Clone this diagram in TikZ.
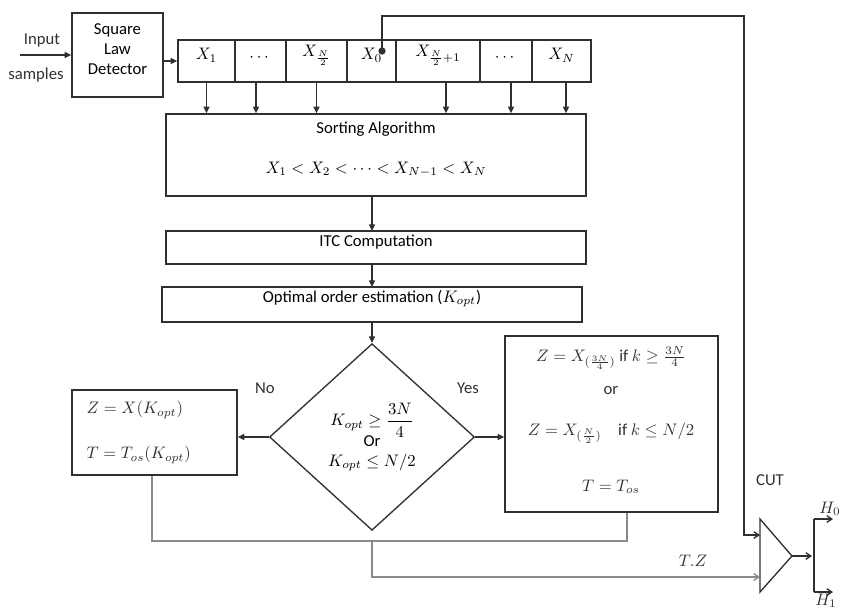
\documentclass[tikz,border=0pt]{standalone}
\usepackage{amsmath}
\usepackage{fontspec}
\setmainfont{Carlito}
\usetikzlibrary{shapes.geometric,arrows.meta,fit,calc}
\definecolor{dk}{HTML}{303030}
\definecolor{lg}{HTML}{8A8A8A}
\begin{document}
\begin{tikzpicture}[x=0.6pt,y=-0.6pt,line width=0.8pt,
  box/.style={draw=dk, inner sep=0pt, align=center, font=\normalsize},
  arr/.style={draw=dk,-{Triangle[length=4pt,width=3.6pt]}},
  oarr/.style={draw=dk,-{Straight Barb[length=3pt,width=4pt]}},
  garr/.style={draw=lg,-{Straight Barb[length=3pt,width=4pt]}},
  lbl/.style={inner sep=0pt, font=\normalsize, text=dk}]
\useasboundingbox (0,0) rectangle (841,609);
% input and detector
\node[box, fit={(72,13)(163,97)}] (det) {Square\\Law\\Detector};
\coordinate (in) at (20,55);
\node[lbl] (inlbl) at (42,40) {Input};
\node[lbl] (smlbl) at (36,75) {samples};
\draw[arr] (in) -- (det.west |- in);
% register cells
\node[box, fit={(178,40)(235,82)}] (c1) {$X_1$};
\node[box, fit={(235,40)(286,82)}] (c2) {$\cdots$};
\node[box, fit={(286,40)(347,82)}] (c3) {$X_{\frac{N}{2}}$};
\node[box, fit={(347,40)(396,82)}] (c4) {$X_0$};
\node[box, fit={(396,40)(480,82)}] (c5) {$X_{\frac{N}{2}+1}$};
\node[box, fit={(480,40)(532,82)}] (c6) {$\cdots$};
\node[box, fit={(532,40)(591,82)}] (c7) {$X_N$};
\draw[arr] (det.east |- c1.west) -- (c1.west);
% sorting etc
\node[box, fit={(166,114)(586,196)}] (sort) {Sorting Algorithm\\[12pt]$X_1<X_2<\cdots<X_{N-1}<X_N$};
\node[box, fit={(166,231)(586,264)}] (itc) {ITC Computation};
\node[box, fit={(162,287)(582,322)}] (opt) {Optimal order estimation ($K_{opt}$)};
\foreach \c/\dx in {c1/0,c2/-4.5,c3/0,c5/8,c6/5,c7/4.5}{
  \draw[arr] ([xshift=\dx*0.6pt]\c.south) -- ([xshift=\dx*0.6pt]\c.south |- sort.north);
}
\draw[arr] (372,196) -- (372,231);
\draw[arr] (372,264) -- (372,287);
% diamond
\node[draw=dk, diamond, inner sep=0pt, minimum width=123pt, minimum height=112pt, align=center, font=\normalsize] (dec) at (372,437)
  {$K_{opt}\geq\dfrac{3N}{4}$\\[-2pt]Or\\[0pt]$K_{opt}\leq N/2$};
\draw[arr] (372,322) -- (dec.north);
% left box
\node[box, fit={(72,390)(237,475)}] (lb) {};
\node[lbl, anchor=west] (lb1) at (86,410) {$Z=X(K_{opt})$};
\node[lbl, anchor=west] (lb2) at (86,455) {$T=T_{os}(K_{opt})$};
\draw[arr] (dec.west) -- (lb.east |- dec.west);
% right box
\node[box, fit={(505,336)(718,512)}] (rb) {};
\node[lbl] (rb1) at (611,358) {$Z=X_{(\frac{3N}{4})}$ if $k\geq\frac{3N}{4}$};
\node[lbl] (rb2) at (611,391) {or};
\node[lbl] (rb3) at (611,433) {$Z=X_{(\frac{N}{2})}$\quad if $k\leq N/2$};
\node[lbl] (rb4) at (611,487) {$T=T_{os}$};
\draw[arr] (dec.east) -- (rb.west |- dec.east);
\node[lbl] (no) at (265,388) {No};
\node[lbl] (yes) at (468,388) {Yes};
% comparator
\coordinate (tA) at (760,519);
\coordinate (tB) at (760,592);
\coordinate (tC) at (792,556);
\draw[draw=dk] (tA) -- (tC) -- (tB) -- cycle;
\coordinate (cin1) at (760,535);
\coordinate (cin2) at (760,577);
% CUT path
\coordinate (dot) at (382,51);
\fill[dk] (dot) circle (2.2pt);
\draw[oarr] (dot) -- (382,16) -- (744,16) -- (744,535) -- (cin1);
\node[lbl] (cut) at (770,480) {CUT};
% gray paths
\draw[draw=lg] (lb.south -| 152,0) -- (152,541) -- (627,541) -- (rb.south -| 627,0);
\draw[garr] (372,541) -- (372,577) -- (cin2);
\node[lbl] (tz) at (693,561) {$T.Z$};
% outputs
\coordinate (o1) at (814,519);
\coordinate (o2) at (814,592);
\draw[oarr] (tC) -- (812,556);
\draw[draw=dk] (o1) -- (o2);
\draw[oarr] (o1) -- (833,519);
\draw[oarr] (o2) -- (833,592);
\node[lbl] (h0) at (830,509) {$H_0$};
\node[lbl] (h1) at (826,601) {$H_1$};
\end{tikzpicture}
\end{document}
